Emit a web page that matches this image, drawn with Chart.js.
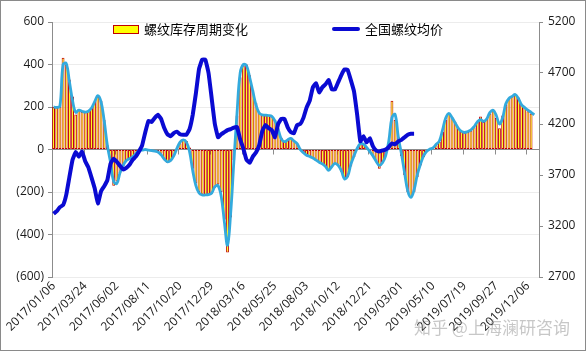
<!DOCTYPE html>
<html>
<head>
<meta charset="utf-8">
<script src="https://cdn.jsdelivr.net/npm/chart.js@4/dist/chart.umd.min.js"></script>
<style>
  html, body { margin: 0; padding: 0; background: #fff; }
  #wrap { position: relative; width: 587px; height: 351px; }
  #frame { position: absolute; left: 0; top: 0; width: 584px; height: 349px; border: 1px solid #8a8a8a; pointer-events: none; }
  .lg { position: absolute; font: 13px "Noto Sans CJK SC", sans-serif; color: #000; line-height: 16px; }
  #box1 { position: absolute; left: 113px; top: 25px; width: 24px; height: 7px; background: #ffff00; border: 1px solid #c00000; }
  #line2 { position: absolute; left: 332px; top: 27px; width: 28px; height: 4px; background: #0a0ad2; border-radius: 2px; }
  #mark { position: absolute; left: 414px; top: 314px; font: 17px "Noto Sans CJK SC", sans-serif; color: rgba(130,130,130,0.45); white-space: nowrap; }
</style>
</head>
<body>
<div id="wrap">
  <canvas id="chart" width="587" height="351"></canvas>
  <div id="box1"></div>
  <div class="lg" style="left:144px; top:21px;">螺纹库存周期变化</div>
  <div id="line2"></div>
  <div class="lg" style="left:365px; top:21px;">全国螺纹均价</div>
  <div id="mark">知乎 @上海澜研咨询</div>
  <div id="frame"></div>
</div>
<script>
// weekly data, one label every 10 weeks
const weekCount = 154;
const tickLabels = ['2017/01/06', '2017/03/24', '2017/06/02', '2017/08/11', '2017/10/20', '2017/12/29',
  '2018/03/16', '2018/05/25', '2018/08/03', '2018/10/12', '2018/12/21', '2019/03/01',
  '2019/05/10', '2019/07/19', '2019/09/27', '2019/12/06'];

// 螺纹库存周期变化 (bars)
const stockChange = [
  200, 198, 200, 432, 400, 330, 250, 165, 190, 178,
  175, 180, 195, 225, 250, 230, 140, 20, -65, -170,
  -150, -110, -80, -50, -45, -35, -25, -15, -5, 3,
  -5, -8, -10, -12, -20, -50, -62, -55, -30, 5,
  30, 45, 40, 10, -90, -160, -200, -212, -215, -210,
  -208, -180, -165, -200, -330, -485, -320, -50, 160, 340,
  395, 400, 350, 280, 220, 175, 165, 160, 162, 155,
  140, 100, 55, 40, 45, 55, 40, 30, 5, -15,
  -25, -35, -40, -52, -58, -70, -82, -95, -85, -70,
  -72, -105, -135, -130, -80, -35, 10, 25, 28, 12,
  -10, -30, -55, -90, -60, -30, 30, 230, 140, 60,
  -30, -120, -200, -225, -200, -130, -75, -35, -10, 0,
  5, 20, 35, 85, 140, 172, 152, 128, 100, 85,
  78, 82, 90, 105, 130, 155, 130, 145, 170, 188,
  150, 100, 160, 210, 240, 250, 258, 245, 210, 195,
  180, 170
];

// light blue curve drawn over the bars
const stockTrend = [
  200, 198, 205, 400, 405, 320, 230, 175, 185, 180,
  176, 180, 195, 225, 254, 225, 135, 20, -60, -150,
  -160, -110, -75, -52, -43, -35, -20, -5, -3, 0,
  -3, -5, -8, -12, -25, -45, -58, -52, -30, 5,
  35, 45, 35, -10, -100, -170, -205, -214, -214, -212,
  -205, -175, -170, -220, -340, -450, -300, -60, 170, 360,
  400, 395, 340, 275, 210, 172, 163, 162, 160, 156,
  135, 95, 50, 37, 45, 52, 40, 28, 0, -15,
  -27, -33, -40, -50, -60, -68, -80, -98, -80, -65,
  -75, -100, -138, -125, -70, -30, 5, 28, 25, 10,
  -10, -30, -55, -75, -62, -30, 40, 150, 165, 60,
  -20, -110, -195, -225, -190, -120, -70, -30, -8, 2,
  8, 25, 40, 92, 148, 170, 150, 125, 100, 85,
  80, 85, 92, 108, 130, 140, 132, 145, 175, 185,
  160, 120, 150, 215, 240, 250, 259, 240, 210, 197,
  185, 175, 163
];

// 全国螺纹均价 (right axis)
const rebarPrice = [
  3320, 3345, 3385, 3405, 3505, 3680, 3850, 3925, 3880, 3930,
  3835, 3775, 3675, 3570, 3420, 3540, 3590, 3650, 3810, 3860,
  3830, 3790, 3755, 3770, 3800, 3850, 3880, 3930, 3990, 4120,
  4230, 4220, 4260, 4290, 4250, 4160, 4100, 4080, 4110, 4125,
  4100, 4095, 4095, 4150, 4290, 4500, 4740, 4830, 4830, 4700,
  4450, 4200, 4070, 4100, 4120, 4140, 4150, 4165, 4170, 4050,
  3960, 3850, 3820, 3880, 3920, 3990, 4130, 4190, 4160, 4140,
  4070, 4200, 4250, 4250, 4170, 4120, 4110, 4190, 4200, 4260,
  4360, 4430, 4560, 4600, 4510, 4560, 4590, 4630, 4540, 4540,
  4610, 4680, 4735, 4730, 4630, 4520, 4290, 4030, 4080, 4020,
  4060, 3980, 3940, 3930, 3940, 3950, 3975, 4010, 4000, 4030,
  4045, 4070, 4095, 4105, 4105
];

const categories = Array.from({ length: weekCount }, (_, i) => (i % 10 === 0 ? tickLabels[i / 10] : ''));

const axisGrey = '#8c8c8c';
const tickFont = { family: 'Open Sans', size: 12 };

// small tick marks hanging off the zero line, every 10 weeks
const zeroTicks = {
  id: 'zeroTicks',
  beforeDatasetsDraw(chart) {
    const { ctx, scales: { x, y } } = chart;
    const y0 = y.getPixelForValue(0);
    const half = (x.getPixelForValue(1) - x.getPixelForValue(0)) / 2;
    ctx.save();
    ctx.strokeStyle = axisGrey;
    ctx.lineWidth = 1;
    for (let i = 10; i <= 150; i += 10) {
      const px = Math.round(x.getPixelForValue(i) - half) + 0.5;
      ctx.beginPath();
      ctx.moveTo(px, y0);
      ctx.lineTo(px, y0 + 5);
      ctx.stroke();
    }
    ctx.restore();
  }
};

new Chart(document.getElementById('chart'), {
  type: 'bar',
  data: {
    labels: categories,
    datasets: [
      {
        label: '全国螺纹均价',
        type: 'line',
        data: rebarPrice,
        yAxisID: 'y2',
        borderColor: '#0a0ad2',
        borderWidth: 4,
        pointRadius: 0,
        tension: 0.1,
        order: 0
      },
      {
        label: 'trend',
        type: 'line',
        data: stockTrend,
        yAxisID: 'y',
        borderColor: '#33aadd',
        borderWidth: 2.8,
        pointRadius: 0,
        tension: 0.4,
        order: 1
      },
      {
        label: '螺纹库存周期变化',
        data: stockChange,
        yAxisID: 'y',
        backgroundColor: '#ffff00',
        borderColor: '#c00000',
        borderWidth: 1,
        borderSkipped: false,
        barPercentage: 1,
        categoryPercentage: 0.9,
        order: 2
      }
    ]
  },
  options: {
    responsive: false,
    animation: false,
    layout: { padding: { top: 22, left: 0, right: 0, bottom: 0 } },
    plugins: {
      legend: { display: false },
      tooltip: { enabled: false }
    },
    scales: {
      x: {
        grid: { display: false, drawTicks: false },
        border: { display: false },
        ticks: {
          autoSkip: false,
          maxRotation: 45,
          minRotation: 45,
          padding: 2,
          color: '#1a1a1a',
          font: tickFont,
          callback: (v, i) => categories[i]
        },
        afterFit: (scale) => { scale.height = 74; }
      },
      y: {
        position: 'left',
        min: -600,
        max: 600,
        grid: {
          color: (c) => (c.tick && c.tick.value === 0 ? axisGrey : '#ececec'),
          tickColor: axisGrey,
          tickLength: 4
        },
        border: { display: true, color: axisGrey },
        ticks: {
          stepSize: 200,
          padding: 4,
          color: '#1a1a1a',
          font: tickFont,
          callback: (v) => (v < 0 ? '(' + Math.abs(v) + ')' : String(v))
        },
        afterFit: (scale) => { scale.width = 52; }
      },
      y2: {
        position: 'right',
        min: 2700,
        max: 5200,
        grid: { drawOnChartArea: false, color: axisGrey, tickLength: 4 },
        border: { display: true, color: axisGrey },
        ticks: {
          stepSize: 500,
          padding: 5,
          color: '#1a1a1a',
          font: tickFont,
          callback: (v) => String(v)
        },
        afterFit: (scale) => { scale.width = 48; }
      }
    }
  },
  plugins: [zeroTicks]
});
</script>
</body>
</html>
